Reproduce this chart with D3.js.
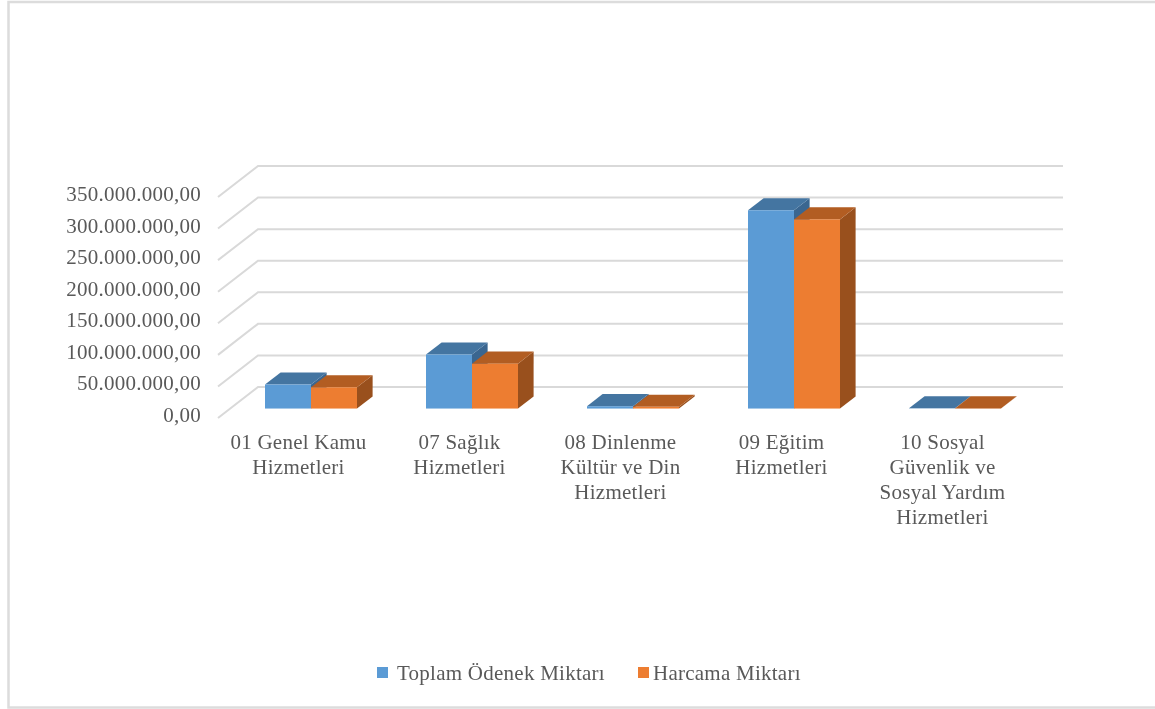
<!DOCTYPE html>
<html>
<head>
<meta charset="utf-8">
<script src="https://cdn.jsdelivr.net/npm/d3@7"></script>
<style>
  html, body { margin: 0; padding: 0; background: #fff; overflow: hidden; }
  svg { display: block; filter: blur(0.4px); }
  text { font-family: "Liberation Serif", serif; fill: #595959; font-size: 21px; letter-spacing: 0.25px; }
</style>
</head>
<body>
<div id="chart"></div>
<script>
const width = 1155;
const height = 709;

// data
const categories = [
  ["01 Genel Kamu", "Hizmetleri"],
  ["07 Sağlık", "Hizmetleri"],
  ["08 Dinlenme", "Kültür ve Din", "Hizmetleri"],
  ["09 Eğitim", "Hizmetleri"],
  ["10 Sosyal", "Güvenlik ve", "Sosyal Yardım", "Hizmetleri"]
];
const seriesNames = ["Toplam Ödenek Miktarı", "Harcama Miktarı"];
const toplamOdenek = [38000000, 85500000, 3700000, 314000000, 300000];
const harcama = [33700000, 71000000, 2700000, 299500000, 200000];
const tickValues = [0, 50000000, 100000000, 150000000, 200000000, 250000000, 300000000, 350000000];
const tickLabels = ["0,00", "50.000.000,00", "100.000.000,00", "150.000.000,00", "200.000.000,00", "250.000.000,00", "300.000.000,00", "350.000.000,00"];

const colors = [
  { front: "#5b9bd5", top: "#4475a1", side: "#3a6690" },
  { front: "#ed7d31", top: "#b25d22", side: "#99501d" }
];

const svg = d3.select("#chart").append("svg")
  .attr("width", width)
  .attr("height", height);

// frame, its right edge runs off the picture
svg.append("rect")
  .attr("x", 8.5).attr("y", 2)
  .attr("width", 1160).attr("height", 705.5)
  .attr("fill", "#fff")
  .attr("stroke", "#dcdcdc")
  .attr("stroke-width", 2.5);

// scales: x and y on the front plane of the floor, depth as a fraction of it
const floorLeft = 218, floorRight = 1023;
const x = d3.scaleBand().domain(d3.range(categories.length)).range([floorLeft + 12.5, floorRight + 12.5]);
const x0 = d3.scaleBand().domain(d3.range(categories.length)).range([floorLeft, floorRight]);
const y = d3.scaleLinear().domain([0, 350000000]).range([418, 197]);
const depthX = 40, depthY = -31;
const barWidth = 46;
const barDepth = 0.39;
const barFront = 0.305;

function project(px, py, d) {
  return [px + d * depthX, py + d * depthY];
}

function poly(points) {
  return points.map(p => p.join(",")).join(" ");
}

// gridlines
const grid = svg.append("g")
  .attr("fill", "none")
  .attr("stroke", "#d9d9d9")
  .attr("stroke-width", 2);

grid.selectAll("polyline")
  .data(tickValues)
  .enter()
  .append("polyline")
  .attr("points", d => poly([
    project(floorLeft, y(d), 0),
    project(floorLeft, y(d), 1),
    project(floorRight, y(d), 1)
  ]));

// y labels
svg.append("g")
  .selectAll("text")
  .data(tickValues)
  .enter()
  .append("text")
  .attr("x", 201)
  .attr("y", d => y(d) + 4)
  .attr("text-anchor", "end")
  .text((d, i) => tickLabels[i]);

// bars
const bars = svg.append("g");
[toplamOdenek, harcama].forEach((values, s) => {
  values.forEach((v, i) => {
    const center = x(i) + x.bandwidth() / 2;
    const left = center + (s - 1) * barWidth;
    const right = left + barWidth;
    // base of the bar sits on the floor plane, value height is measured from there
    const base = y(0) + barFront * depthY;
    const topY = base - (y(0) - y(v));
    const g = bars.append("g");
    g.append("polygon")
      .attr("fill", colors[s].side)
      .attr("points", poly([[right, topY], project(right, topY, barDepth), project(right, base, barDepth), [right, base]]));
    g.append("polygon")
      .attr("fill", colors[s].top)
      .attr("points", poly([[left, topY], project(left, topY, barDepth), project(right, topY, barDepth), [right, topY]]));
    g.append("rect")
      .attr("x", left).attr("y", topY)
      .attr("width", barWidth).attr("height", base - topY)
      .attr("fill", colors[s].front);
  });
});

// category labels
const catLabels = svg.append("g")
  .selectAll("text")
  .data(categories)
  .enter()
  .append("text")
  .attr("text-anchor", "middle")
  .attr("x", (d, i) => x0(i) + x0.bandwidth() / 2)
  .attr("y", 448.5);

catLabels.selectAll("tspan")
  .data(d => d)
  .enter()
  .append("tspan")
  .attr("x", function () { return d3.select(this.parentNode).attr("x"); })
  .attr("dy", (d, i) => i === 0 ? 0 : 25.2)
  .text(d => d);

// legend
const legendX = [377, 638];
const legendTextX = [397, 653];
seriesNames.forEach((name, i) => {
  svg.append("rect")
    .attr("x", legendX[i]).attr("y", 667)
    .attr("width", 11).attr("height", 11)
    .attr("fill", colors[i].front);
  svg.append("text")
    .attr("x", legendTextX[i]).attr("y", 679.5)
    .text(name);
});
</script>
</body>
</html>
